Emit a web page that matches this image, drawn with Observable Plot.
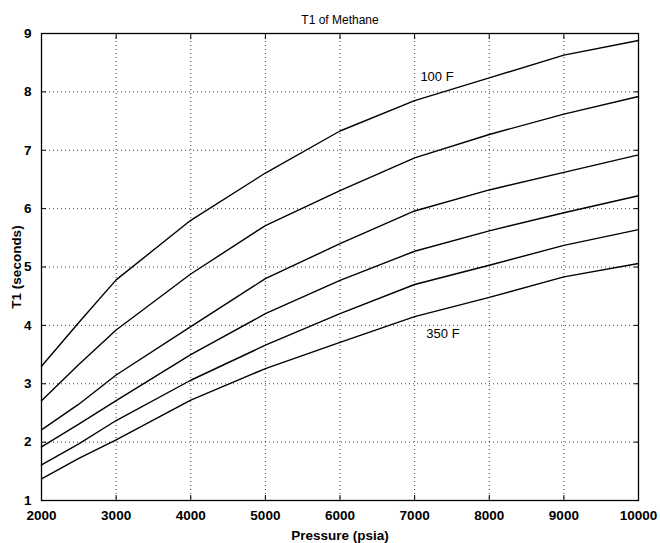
<!DOCTYPE html>
<html>
<head>
<meta charset="utf-8">
<script src="https://cdn.jsdelivr.net/npm/d3@7"></script>
<script src="https://cdn.jsdelivr.net/npm/@observablehq/plot@0.6"></script>
<style>
  html, body { margin: 0; padding: 0; background: #fff; }
  #chart svg { display: block; }
  #chart [aria-label="x-axis tick label"], #chart [aria-label="y-axis tick label"] { font-weight: bold; }
  #chart [aria-label="x-axis label"], #chart [aria-label="y-axis label"] { font-weight: bold; }
</style>
</head>
<body>
<div id="chart"></div>
<script>
const title = "T1 of Methane";
const xLabel = "Pressure (psia)";
const yLabel = "T1 (seconds)";

const pressures = [2000, 2500, 3000, 4000, 5000, 6000, 7000, 8000, 9000, 10000];
const t100F = [3.30, 4.05, 4.78, 5.80, 6.61, 7.33, 7.85, 8.24, 8.63, 8.88];
const t150F = [2.71, 3.33, 3.92, 4.88, 5.71, 6.31, 6.87, 7.27, 7.62, 7.92];
const t200F = [2.21, 2.65, 3.15, 3.98, 4.80, 5.40, 5.96, 6.32, 6.62, 6.92];
const t250F = [1.92, 2.31, 2.71, 3.50, 4.20, 4.77, 5.27, 5.62, 5.93, 6.22];
const t300F = [1.61, 1.97, 2.37, 3.06, 3.66, 4.20, 4.70, 5.03, 5.37, 5.64];
const t350F = [1.37, 1.72, 2.04, 2.72, 3.26, 3.71, 4.15, 4.48, 4.83, 5.06];

const seriesNames = ["100 F", "150 F", "200 F", "250 F", "300 F", "350 F"];
const seriesValues = [t100F, t150F, t200F, t250F, t300F, t350F];

const xTicks = [2000, 3000, 4000, 5000, 6000, 7000, 8000, 9000, 10000];
const yTicks = [1, 2, 3, 4, 5, 6, 7, 8, 9];

const labelTexts = ["100 F", "350 F"];
const labelPressures = [7300, 7380];
const labelValues = [8.25, 3.86];

const rows = seriesNames.flatMap((name, i) =>
  pressures.map((p, j) => ({series: name, p, v: seriesValues[i][j]})));
const labels = labelTexts.map((t, i) => ({t, p: labelPressures[i], v: labelValues[i]}));

const chart = Plot.plot({
  width: 660,
  height: 543,
  marginLeft: 41,
  marginRight: 22,
  marginTop: 33,
  marginBottom: 43,
  style: {fontFamily: "'Liberation Sans', Arial, Helvetica, sans-serif", fontSize: "13px", color: "#000", background: "#fff"},
  x: {domain: [2000, 10000]},
  y: {domain: [1, 9]},
  marks: [
    Plot.gridX(xTicks, {stroke: "#000", strokeOpacity: 0.75, strokeDasharray: "1,3"}),
    Plot.gridY(yTicks, {stroke: "#000", strokeOpacity: 0.75, strokeDasharray: "1,3"}),
    Plot.axisX(xTicks, {anchor: "bottom", tickSize: -5, tickPadding: 15, tickFormat: d => String(d),
      label: xLabel, labelAnchor: "center", labelArrow: "none", labelOffset: 39, fontSize: 13.5}),
    Plot.axisX(xTicks, {anchor: "top", tickSize: -5, tickFormat: () => "", label: null}),
    Plot.axisY(yTicks, {anchor: "left", tickSize: -5, tickPadding: 15, tickFormat: d => String(d),
      label: yLabel, labelAnchor: "center", labelArrow: "none", labelOffset: 30, fontSize: 13.5}),
    Plot.axisY(yTicks, {anchor: "right", tickSize: -5, tickFormat: () => "", label: null}),
    Plot.frame({stroke: "#000", strokeWidth: 1.3}),
    Plot.line(rows, {x: "p", y: "v", z: "series", stroke: "#000", strokeWidth: 1.4}),
    Plot.text(labels, {x: "p", y: "v", text: "t", fontSize: 13, fill: "#000"}),
    Plot.text([title], {frameAnchor: "top", dy: -18, fontSize: 12, fill: "#000"})
  ]
});
document.getElementById("chart").appendChild(chart);
</script>
</body>
</html>
